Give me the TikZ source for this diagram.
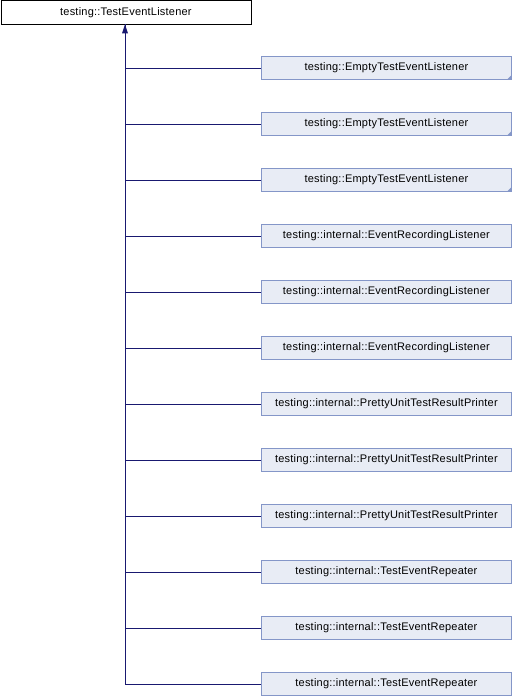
\documentclass[tikz,border=0pt]{standalone}
\usepackage{fontspec}
\setmainfont[LetterSpace=2]{Liberation Sans}
\definecolor{boxfill}{RGB}{232,236,245}
\definecolor{boxdraw}{RGB}{132,150,200}
\definecolor{edge}{RGB}{25,25,112}
\begin{document}
\begin{tikzpicture}[x=1pt,y=-1pt,
  base/.style={draw=black,fill=white,line width=0.8pt,minimum width=250pt,minimum height=23pt,inner sep=0pt,font=\fontsize{11}{13}\selectfont},
  child/.style={draw=boxdraw,fill=boxfill,line width=0.8pt,minimum width=250pt,minimum height=23pt,inner sep=0pt,font=\fontsize{11}{13}\selectfont},
  conn/.style={draw=edge,line width=0.8pt}]
\useasboundingbox (0,0) rectangle (512,696);
\node[base,anchor=north west] (root) at (0.5,0.5) {testing::TestEventListener};
\coordinate (trunk) at (125,23.5);
\foreach \i/\t in {1/testing::EmptyTestEventListener,2/testing::EmptyTestEventListener,3/testing::EmptyTestEventListener,4/testing::internal::EventRecordingListener,5/testing::internal::EventRecordingListener,6/testing::internal::EventRecordingListener,7/testing::internal::PrettyUnitTestResultPrinter,8/testing::internal::PrettyUnitTestResultPrinter,9/testing::internal::PrettyUnitTestResultPrinter,10/testing::internal::TestEventRepeater,11/testing::internal::TestEventRepeater,12/testing::internal::TestEventRepeater}{
  \node[child,anchor=west] (c\i) at (261,{68+56*(\i-1)}) {\t};
  \coordinate (j\i) at (125,{68+56*(\i-1)});
  \draw[conn] (j\i) -- (c\i.west);
}
\foreach \i in {1,2,3}{
  \fill[boxdraw] (c\i.south east) -- ++(0,-5) -- ++(-5,5) -- cycle;
}
\draw[conn] (j12) -- (trunk);
\fill[edge] (root.south -| trunk) -- ++(-3,9) -- ++(6,0) -- cycle;
\end{tikzpicture}
\end{document}
